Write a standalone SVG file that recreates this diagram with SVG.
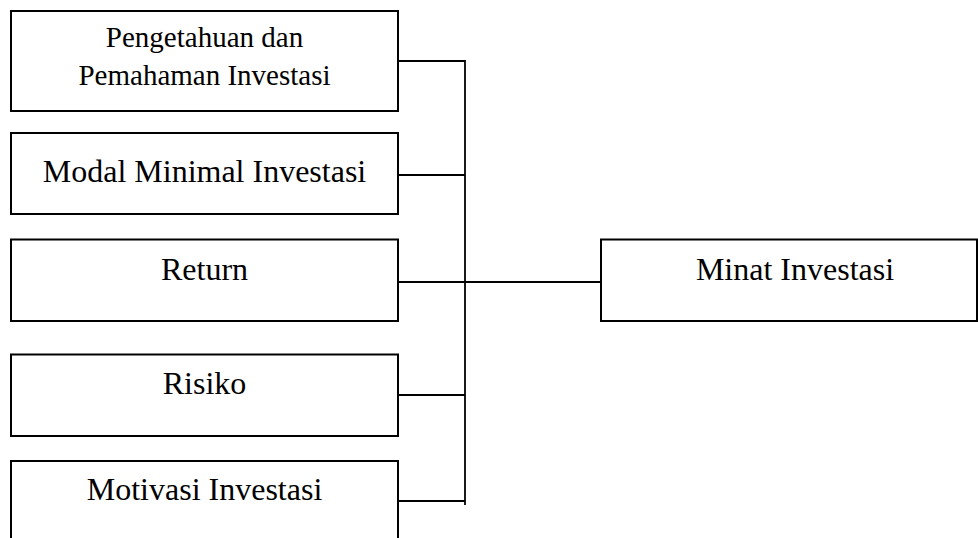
<svg xmlns="http://www.w3.org/2000/svg" width="978" height="538" viewBox="0 0 978 538">
<style>
.box{fill:#fff;stroke:#000;stroke-width:2}
.t{font-family:"Liberation Serif","Times New Roman",serif;fill:#000;text-anchor:middle}
.big{font-size:32px}
.small{font-size:29px}
.ln{stroke:#000;stroke-width:1.8;fill:none}
</style>
<rect width="978" height="538" fill="#fff"/>
<g id="connectors">
<line class="ln" x1="398" y1="61" x2="465" y2="61"/>
<line class="ln" x1="398" y1="175" x2="465" y2="175"/>
<line class="ln" x1="398" y1="282" x2="601" y2="282"/>
<line class="ln" x1="398" y1="395" x2="465" y2="395"/>
<line class="ln" x1="398" y1="501" x2="465" y2="501"/>
<line class="ln" x1="465" y1="60.1" x2="465" y2="505"/>
</g>
<g id="n1">
<rect class="box" x="11" y="11" width="387" height="100"/>
<text class="t small" x="204.5" y="47">Pengetahuan dan</text>
<text class="t small" x="204.5" y="85">Pemahaman Investasi</text>
</g>
<g id="n2">
<rect class="box" x="11" y="133" width="387" height="81"/>
<text class="t big" x="204.5" y="182">Modal Minimal Investasi</text>
</g>
<g id="n3">
<rect class="box" x="11" y="239.5" width="387" height="81.5"/>
<text class="t big" x="204.5" y="280">Return</text>
</g>
<g id="n4">
<rect class="box" x="11" y="354.5" width="387" height="81.5"/>
<text class="t big" x="204.5" y="394">Risiko</text>
</g>
<g id="n5">
<rect class="box" x="11" y="461" width="387" height="90"/>
<text class="t big" x="204.5" y="500">Motivasi Investasi</text>
</g>
<g id="n6">
<rect class="box" x="601" y="239.5" width="376" height="81.5"/>
<text class="t big" x="795" y="280">Minat Investasi</text>
</g>
</svg>
